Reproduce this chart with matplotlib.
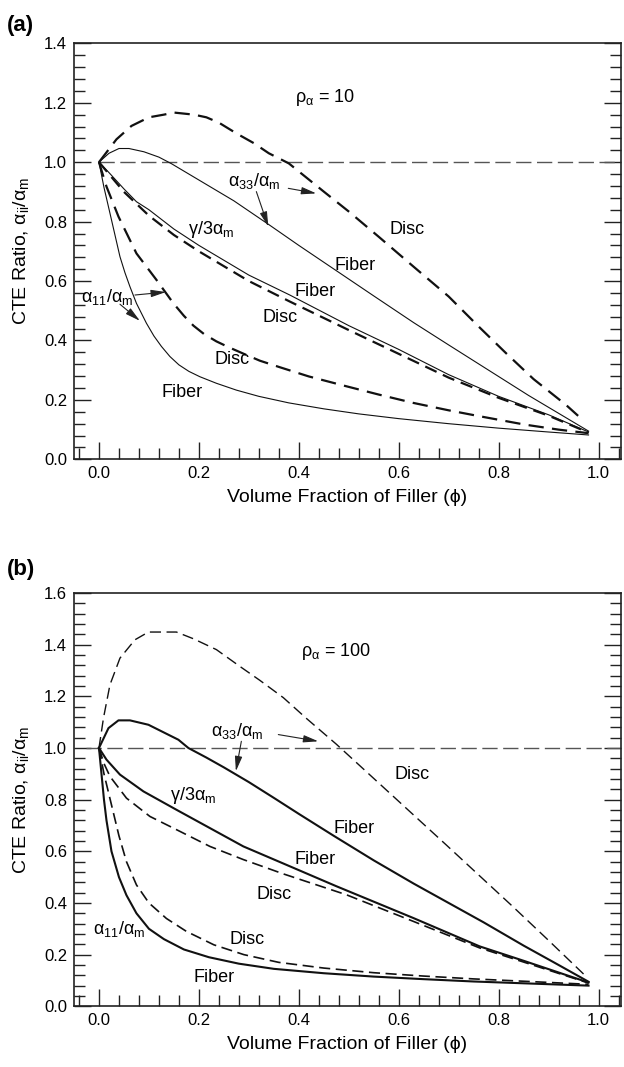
import numpy as np
import matplotlib
matplotlib.use('Agg')
import matplotlib.pyplot as plt
from matplotlib.ticker import MultipleLocator, FormatStrFormatter

plt.rcParams['font.family'] = ['Liberation Sans', 'DejaVu Sans']
plt.rcParams['mathtext.default'] = 'regular'
plt.rcParams['lines.scale_dashes'] = False

# ---------------- panel (a): rho_alpha = 10 ----------------
a33_disc_x_a = [0, 0.035, 0.065, 0.1, 0.13, 0.15, 0.19, 0.215, 0.24, 0.275, 0.31, 0.34, 0.38,
                0.45, 0.5, 0.56, 0.63, 0.7, 0.76, 0.815, 0.87, 0.935, 0.97]
a33_disc_y_a = [1.0, 1.077, 1.122, 1.151, 1.16, 1.167, 1.16, 1.151, 1.133, 1.097, 1.064, 1.03, 0.996,
                0.901, 0.834, 0.749, 0.648, 0.548, 0.447, 0.357, 0.27, 0.183, 0.13]

a33_fib_x_a = [0, 0.02, 0.04, 0.06, 0.09, 0.12, 0.145, 0.2, 0.27, 0.34, 0.4, 0.475, 0.55, 0.63,
               0.7, 0.78, 0.86, 0.93, 0.98]
a33_fib_y_a = [1.0, 1.03, 1.046, 1.046, 1.035, 1.017, 0.995, 0.94, 0.87, 0.79, 0.72, 0.635, 0.55, 0.46,
               0.385, 0.3, 0.215, 0.145, 0.095]

gam_fib_x_a = [0, 0.02, 0.05, 0.075, 0.1, 0.15, 0.2, 0.3, 0.382, 0.5, 0.6, 0.7, 0.8, 0.9, 0.98]
gam_fib_y_a = [1.0, 0.965, 0.91, 0.867, 0.84, 0.775, 0.72, 0.62, 0.553, 0.45, 0.37, 0.285, 0.212, 0.15, 0.092]

gam_disc_x_a = [0, 0.02, 0.05, 0.1, 0.15, 0.2, 0.3, 0.382, 0.5, 0.6, 0.7, 0.8, 0.9, 0.98]
gam_disc_y_a = [1.0, 0.96, 0.9, 0.82, 0.755, 0.7, 0.6, 0.531, 0.435, 0.355, 0.275, 0.207, 0.147, 0.09]

a11_disc_x_a = [0, 0.015, 0.039, 0.075, 0.115, 0.149, 0.17, 0.189, 0.21, 0.235, 0.26, 0.29,
                0.322, 0.362, 0.42, 0.495, 0.56, 0.629, 0.7, 0.762, 0.852, 0.92, 0.98]
a11_disc_y_a = [1.0, 0.918, 0.817, 0.693, 0.604, 0.525, 0.483, 0.45, 0.422, 0.397, 0.377, 0.355,
                0.332, 0.31, 0.279, 0.246, 0.218, 0.19, 0.165, 0.145, 0.117, 0.1, 0.088]

a11_fib_x_a = [0, 0.01, 0.022, 0.032, 0.042, 0.052, 0.062, 0.075, 0.095, 0.11, 0.125, 0.142,
               0.16, 0.18, 0.202, 0.235, 0.275, 0.32, 0.38, 0.45, 0.52, 0.6, 0.7, 0.8, 0.9, 0.98]
a11_fib_y_a = [1.0, 0.915, 0.828, 0.755, 0.682, 0.628, 0.581, 0.525, 0.458, 0.415, 0.38, 0.346,
               0.318, 0.296, 0.278, 0.256, 0.233, 0.212, 0.19, 0.17, 0.153, 0.137, 0.12, 0.105, 0.092, 0.082]

# ---------------- panel (b): rho_alpha = 100 ----------------
a33_disc_x_b = [0, 0.009, 0.022, 0.042, 0.072, 0.099, 0.155, 0.189, 0.235, 0.282, 0.322, 0.369,
                0.415, 0.475, 0.549, 0.629, 0.695, 0.762, 0.829, 0.9, 0.97]
a33_disc_y_b = [1.0, 1.116, 1.245, 1.348, 1.419, 1.449, 1.449, 1.423, 1.381, 1.316, 1.262, 1.195,
                1.115, 1.015, 0.884, 0.742, 0.625, 0.505, 0.385, 0.255, 0.125]

a33_fib_x_b = [0, 0.019, 0.039, 0.062, 0.099, 0.159, 0.179, 0.215, 0.25, 0.3, 0.35, 0.4, 0.47,
               0.55, 0.63, 0.7, 0.77, 0.85, 0.92, 0.98]
a33_fib_y_b = [1.0, 1.077, 1.107, 1.107, 1.09, 1.032, 1.0, 0.963, 0.925, 0.868, 0.807, 0.745, 0.66,
               0.565, 0.475, 0.4, 0.325, 0.235, 0.16, 0.095]

gam_fib_x_b = [0, 0.015, 0.042, 0.089, 0.155, 0.222, 0.289, 0.37, 0.475, 0.629, 0.762, 0.852, 0.98]
gam_fib_y_b = [1.0, 0.955, 0.897, 0.832, 0.761, 0.69, 0.619, 0.552, 0.465, 0.342, 0.232, 0.175, 0.092]

gam_disc_x_b = [0, 0.01, 0.022, 0.055, 0.102, 0.155, 0.222, 0.289, 0.37, 0.495, 0.629, 0.762,
                0.852, 0.98]
gam_disc_y_b = [1.0, 0.94, 0.89, 0.806, 0.735, 0.684, 0.619, 0.568, 0.512, 0.432, 0.329, 0.226,
                0.17, 0.09]

a11_fib_x_b = [0, 0.005, 0.01, 0.015, 0.025, 0.04, 0.055, 0.075, 0.1, 0.13, 0.17, 0.22, 0.28,
               0.35, 0.45, 0.55, 0.65, 0.75, 0.85, 0.98]
a11_fib_y_b = [1.0, 0.9, 0.8, 0.72, 0.6, 0.5, 0.43, 0.36, 0.3, 0.26, 0.22, 0.19, 0.165,
               0.145, 0.128, 0.115, 0.105, 0.096, 0.089, 0.08]

a11_disc_x_b = [0, 0.01, 0.025, 0.04, 0.055, 0.075, 0.1, 0.135, 0.175, 0.23, 0.29, 0.36,
                0.45, 0.55, 0.65, 0.75, 0.85, 0.98]
a11_disc_y_b = [1.0, 0.9, 0.78, 0.66, 0.56, 0.47, 0.4, 0.34, 0.29, 0.238, 0.2, 0.17,
                0.148, 0.13, 0.117, 0.106, 0.097, 0.085]

TICK_FS = 12
LAB_FS = 14
ANN_FS = 13

fig = plt.figure(figsize=(6.24, 10.67), dpi=100)
ax_a = fig.add_axes([0.1186, 0.5695, 0.8766, 0.3899])
ax_b = fig.add_axes([0.1186, 0.0569, 0.8766, 0.3873])


def style_axes(ax, ytop):
    ax.set_xlim(-0.05, 1.045)
    ax.set_ylim(0, ytop)
    ax.xaxis.set_minor_locator(MultipleLocator(0.04))
    ax.yaxis.set_major_locator(MultipleLocator(0.2))
    ax.yaxis.set_minor_locator(MultipleLocator(0.04))
    ax.set_xticks(np.arange(0, 1.01, 0.2))
    ax.set_xticklabels(['0.0', '0.2', '0.4', '0.6', '0.8', '1.0'])
    ax.yaxis.set_major_formatter(FormatStrFormatter('%.1f'))
    ax.tick_params(which='both', direction='in', top=False, right=True,
                   labelsize=TICK_FS, width=1.0, color='#222222')
    ax.tick_params(which='major', length=12, pad=5)
    ax.tick_params(which='minor', length=8)
    for s in ax.spines.values():
        s.set_linewidth(1.2)
        s.set_color('#222222')
    ax.set_xlabel('Volume Fraction of Filler (ϕ)', fontsize=LAB_FS)
    ax.set_ylabel('CTE Ratio, α$_{ii}$/α$_m$', fontsize=LAB_FS)
    ax.xaxis.set_label_coords(0.5, -0.072)
    ax.yaxis.set_label_coords(-0.078, 0.5)


def arrow(ax, tail, tip):
    ax.annotate('', xy=tip, xytext=tail,
                arrowprops=dict(arrowstyle='-|>,head_length=0.9,head_width=0.22',
                                lw=0.8, color='#222222', mutation_scale=10,
                                shrinkA=0, shrinkB=0))


# ---------- panel (a) ----------
ax = ax_a
ax.plot([0, 1.045], [1.0, 1.0], color='#555555', lw=1.0, dashes=(11, 4))
ax.plot(a33_disc_x_a, a33_disc_y_a, color='#111111', lw=1.6, dashes=(11, 6))
ax.plot(a33_fib_x_a, a33_fib_y_a, color='#111111', lw=0.8)
ax.plot(gam_fib_x_a, gam_fib_y_a, color='#111111', lw=0.8)
ax.plot(gam_disc_x_a, gam_disc_y_a, color='#111111', lw=1.6, dashes=(9, 5))
ax.plot(a11_disc_x_a, a11_disc_y_a, color='#111111', lw=1.6, dashes=(11, 6))
ax.plot(a11_fib_x_a, a11_fib_y_a, color='#111111', lw=0.8)
style_axes(ax, 1.4)

ax.text(0.392, 1.216, 'ρ$_{α}$ = 10', fontsize=ANN_FS, va='center')
ax.text(0.258, 0.935, 'α$_{33}$/α$_m$', fontsize=ANN_FS, va='center')
arrow(ax, (0.315, 0.901), (0.339, 0.783))
arrow(ax, (0.379, 0.912), (0.435, 0.895))
ax.text(0.178, 0.772, 'γ/3α$_m$', fontsize=ANN_FS, va='center')
ax.text(0.472, 0.652, 'Fiber', fontsize=ANN_FS, va='center')
ax.text(0.392, 0.565, 'Fiber', fontsize=ANN_FS, va='center')
ax.text(0.582, 0.772, 'Disc', fontsize=ANN_FS, va='center')
ax.text(0.328, 0.477, 'Disc', fontsize=ANN_FS, va='center')
ax.text(0.232, 0.336, 'Disc', fontsize=ANN_FS, va='center')
ax.text(0.126, 0.225, 'Fiber', fontsize=ANN_FS, va='center')
ax.text(-0.036, 0.548, 'α$_{11}$/α$_m$', fontsize=ANN_FS, va='center')
arrow(ax, (0.072, 0.553), (0.134, 0.563))
arrow(ax, (0.042, 0.522), (0.082, 0.466))

# ---------- panel (b) ----------
ax = ax_b
ax.plot([-0.025, 1.045], [1.0, 1.0], color='#555555', lw=1.0, dashes=(11, 4))
ax.plot(a33_disc_x_b, a33_disc_y_b, color='#111111', lw=1.0, dashes=(8, 4))
ax.plot(a33_fib_x_b, a33_fib_y_b, color='#111111', lw=1.5)
ax.plot(gam_fib_x_b, gam_fib_y_b, color='#111111', lw=1.5)
ax.plot(gam_disc_x_b, gam_disc_y_b, color='#111111', lw=1.2, dashes=(8, 4))
ax.plot(a11_fib_x_b, a11_fib_y_b, color='#111111', lw=1.5)
ax.plot(a11_disc_x_b, a11_disc_y_b, color='#111111', lw=1.2, dashes=(8, 4))
style_axes(ax, 1.6)

ax.text(0.405, 1.374, 'ρ$_{α}$ = 100', fontsize=ANN_FS, va='center')
ax.text(0.225, 1.065, 'α$_{33}$/α$_m$', fontsize=ANN_FS, va='center')
arrow(ax, (0.285, 1.026), (0.274, 0.91))
arrow(ax, (0.359, 1.052), (0.439, 1.026))
ax.text(0.142, 0.817, 'γ/3α$_m$', fontsize=ANN_FS, va='center')
ax.text(0.469, 0.69, 'Fiber', fontsize=ANN_FS, va='center')
ax.text(0.392, 0.568, 'Fiber', fontsize=ANN_FS, va='center')
ax.text(0.592, 0.897, 'Disc', fontsize=ANN_FS, va='center')
ax.text(0.315, 0.432, 'Disc', fontsize=ANN_FS, va='center')
ax.text(0.262, 0.258, 'Disc', fontsize=ANN_FS, va='center')
ax.text(0.189, 0.11, 'Fiber', fontsize=ANN_FS, va='center')
ax.text(-0.011, 0.3, 'α$_{11}$/α$_m$', fontsize=ANN_FS, va='center')

fig.text(7 / 624, 1 - 15 / 1067, '(a)', fontsize=16, fontweight='bold', va='top', ha='left')
fig.text(7 / 624, 1 - 559 / 1067, '(b)', fontsize=16, fontweight='bold', va='top', ha='left')

fig.savefig('out.png', dpi=100)
